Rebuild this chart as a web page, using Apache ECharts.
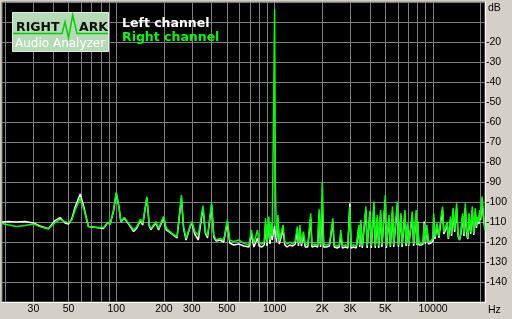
<!DOCTYPE html>
<html>
<head>
<meta charset="utf-8">
<script src="https://cdn.jsdelivr.net/npm/echarts@6/dist/echarts.min.js"></script>
<style>
html,body{margin:0;padding:0;background:#D4D0C8;}
#c{width:512px;height:319px;}
</style>
</head>
<body>
<div id="c"></div>
<script>
// Frequencies (Hz) shared by both channels
const freqs = [
  19, 21, 23.4, 26.6, 30, 33, 37.3, 41, 44.2, 47.5,
  49.9, 52.4, 55, 59.2, 62.7, 66.7, 75.5, 83.1, 88.1, 91.6,
  96.2, 100, 104, 107, 112.4, 119.7, 128.7, 135, 141.9, 147,
  156, 161.6, 165.6, 172, 178, 185, 199, 207, 225, 242,
  258, 266, 276, 294, 301, 313, 330, 353, 365, 377,
  400, 413, 428, 452, 477, 503, 521, 552, 595, 640,
  688, 713, 740, 780, 800, 830, 860, 877, 895, 920,
  935, 950, 965, 985, 1000, 1012, 1028, 1050, 1070, 1100,
  1130, 1160, 1200, 1250, 1300, 1350, 1390, 1415, 1445, 1475,
  1520, 1560, 1620, 1690, 1720, 1800, 1870, 1910, 1950, 2000,
  2040, 2120, 2220, 2330, 2380, 2480, 2560, 2617, 2680, 2800,
  2900, 2984, 3040, 3150, 3280, 3400, 3450, 3500, 3580, 3680,
  3767, 3840, 3920, 4000, 4080, 4160, 4240, 4320, 4400, 4450,
  4540, 4670, 4760, 4880, 5000, 5080, 5180, 5280, 5380, 5550,
  5650, 5800, 5950, 6050, 6150, 6270, 6380, 6520, 6650, 6760,
  6900, 7020, 7200, 7400, 7550, 7700, 7830, 7920, 8000, 8150,
  8400, 8650, 8800, 8950, 9150, 9350, 9700, 10000, 10100, 10300,
  10600, 10900, 11000, 11200, 11500, 11700, 11900, 12300, 12500, 12900,
  13100, 13400, 13700, 14100, 14400, 14700, 15000, 15400, 15700, 16000,
  16300, 16600, 16900, 17300, 17700, 18100, 18500, 18800, 19200, 19500,
  19700, 20000, 20400, 20900, 21300
];
// Right channel (green), dB
const rightDb = [
  -110.7, -111.5, -112.3, -111.8, -111.0, -112.3, -113.5, -110.3, -108.7, -109.8,
  -110.3, -109.0, -104.0, -98.2, -104.0, -112.3, -112.7, -112.8, -110.3, -111.0,
  -104.0, -95.2, -102.3, -109.8, -107.7, -110.7, -114.0, -112.3, -108.7, -110.7,
  -97.3, -111.5, -113.2, -111.5, -109.8, -113.2, -107.3, -113.2, -115.7, -117.3,
  -96.5, -112.3, -118.2, -111.5, -109.8, -114.8, -116.5, -101.8, -114.8, -117.0,
  -100.3, -116.5, -119.0, -118.2, -119.0, -109.0, -119.0, -119.8, -119.0, -120.7,
  -121.5, -114.0, -120.7, -114.0, -120.5, -121.0, -120.0, -108.2, -120.5, -107.3,
  -119.0, -110.7, -117.0, -55.0, -3.5, -93.0, -118.0, -106.5, -119.5, -120.5,
  -111.5, -120.0, -121.0, -120.0, -121.0, -119.5, -112.3, -120.5, -111.5, -121.0,
  -114.8, -121.0, -121.5, -105.7, -121.5, -121.0, -121.5, -103.7, -121.5, -89.8,
  -121.0, -121.5, -121.0, -108.2, -121.5, -122.0, -121.5, -114.0, -122.0, -121.5,
  -122.0, -102.3, -122.0, -121.5, -122.0, -111.5, -121.5, -109.0, -122.0, -121.5,
  -102.3, -122.0, -121.5, -104.8, -122.0, -121.5, -99.8, -122.0, -121.5, -106.5,
  -122.0, -104.0, -121.5, -122.0, -96.5, -122.0, -121.5, -106.5, -122.0, -102.3,
  -121.5, -121.0, -99.8, -121.5, -121.0, -105.7, -121.5, -121.0, -104.0, -121.0,
  -110.7, -121.5, -121.0, -104.8, -121.0, -120.5, -104.0, -121.0, -109.8, -120.5,
  -121.0, -120.5, -110.7, -120.0, -111.5, -120.0, -119.5, -118.0, -105.7, -117.5,
  -110.7, -117.0, -117.0, -108.0, -102.3, -115.0, -115.0, -110.0, -118.0, -107.3,
  -116.0, -103.0, -114.0, -100.7, -116.5, -119.0, -114.8, -105.7, -116.0, -100.7,
  -114.0, -118.0, -105.7, -115.0, -102.3, -115.7, -103.0, -112.0, -107.3, -110.0,
  -104.0, -108.0, -97.3, -108.0, -113.8
];
// Left channel (white), dB
const leftDb = [
  -110.0, -109.8, -110.0, -109.7, -110.5, -112.0, -113.3, -109.3, -107.8, -110.5,
  -111.0, -108.5, -102.5, -96.0, -103.0, -112.3, -112.7, -113.2, -110.5, -111.0,
  -104.5, -95.5, -102.5, -110.0, -108.0, -111.0, -114.8, -113.0, -109.5, -111.5,
  -98.0, -112.0, -113.8, -112.0, -110.5, -114.0, -108.0, -114.0, -116.0, -118.0,
  -98.0, -113.0, -119.0, -112.0, -110.5, -116.0, -119.0, -103.0, -115.5, -118.0,
  -101.5, -117.5, -119.5, -119.0, -120.0, -110.0, -120.5, -121.5, -121.0, -122.0,
  -122.5, -116.0, -122.5, -118.0, -122.0, -122.5, -121.5, -111.0, -122.0, -110.0,
  -121.0, -113.0, -119.0, -115.0, -112.0, -116.0, -120.0, -109.0, -121.0, -122.0,
  -114.0, -121.5, -122.5, -121.5, -122.0, -121.0, -114.0, -122.0, -113.0, -122.0,
  -117.0, -122.5, -122.5, -108.0, -122.5, -122.0, -122.5, -106.0, -122.5, -100.0,
  -122.5, -122.5, -122.0, -110.0, -122.5, -123.0, -122.5, -116.0, -123.0, -122.5,
  -123.0, -100.7, -123.0, -122.5, -123.0, -113.0, -122.5, -111.0, -123.0, -122.5,
  -104.0, -123.0, -122.0, -104.8, -123.0, -122.5, -102.0, -123.0, -122.5, -108.0,
  -123.0, -106.0, -122.5, -123.0, -99.0, -123.0, -122.5, -108.0, -122.5, -104.8,
  -122.5, -122.0, -102.0, -122.5, -122.0, -107.0, -122.5, -122.0, -106.0, -122.0,
  -112.0, -122.0, -122.0, -107.0, -122.0, -121.5, -106.0, -121.5, -109.8, -121.5,
  -121.5, -121.0, -109.8, -121.0, -113.0, -121.0, -120.5, -119.5, -108.0, -118.5,
  -112.0, -118.0, -118.0, -110.0, -104.0, -116.0, -115.0, -112.0, -118.5, -109.0,
  -117.0, -105.0, -115.0, -103.0, -117.0, -119.0, -116.0, -107.0, -117.0, -103.0,
  -116.0, -118.5, -108.0, -116.0, -104.0, -116.5, -105.0, -113.0, -108.0, -111.0,
  -105.0, -109.0, -100.0, -109.0, -113.8
];
// Axis ticks / labels
const xGridValues = [20,30,40,50,60,70,80,90,100,200,300,400,500,600,700,800,900,
  1000,2000,3000,4000,5000,6000,7000,8000,9000,10000,20000];
const xLabelValues = [30,50,100,200,300,500,1000,2000,3000,5000,10000];
const yMin = -150, yMax = 0, yStep = 10;
const seriesNames = ['Left channel', 'Right channel'];

const chart = echarts.init(document.getElementById('c'), null, {renderer:'canvas'});
const labelFont = {fontFamily:'Liberation Sans', fontSize:10.5, color:'#000'};

chart.setOption({
  animation:false,
  backgroundColor:'#D4D0C8',
  grid:{left:2, top:2, right:27, bottom:17, show:true, backgroundColor:'#000',
        borderColor:'#808080', borderWidth:1},
  xAxis:{
    type:'log', logBase:10, min:19, max:21300,
    name:'Hz', nameLocation:'end', nameGap:3,
    nameTextStyle:{fontFamily:'Liberation Sans', fontSize:10.5, color:'#000',
      verticalAlign:'top', align:'left', padding:[3,0,0,0]},
    axisLine:{show:true, onZero:false, lineStyle:{color:'#ffffff', width:1}},
    axisTick:{show:false, customValues:xGridValues},
    splitLine:{show:true, lineStyle:{color:'#808080', width:1}},
    minorSplitLine:{show:false},
    axisLabel:{show:true, customValues:xLabelValues, margin:2, ...labelFont,
      formatter:function(v){ v=Math.round(v); if(v>1000 && v<10000) return (v/1000)+'K'; return String(v);} }
  },
  yAxis:{
    type:'value', position:'right', min:yMin, max:yMax, interval:yStep,
    name:'dB', nameLocation:'end', nameGap:-1,
    nameTextStyle:{fontFamily:'Liberation Sans', fontSize:10.5, color:'#000',
      align:'left', verticalAlign:'top', padding:[0,0,0,3]},
    axisLine:{show:true, lineStyle:{color:'#ffffff', width:1}},
    axisTick:{show:false},
    splitLine:{show:true, lineStyle:{color:'#808080', width:1}},
    axisLabel:{margin:1, ...labelFont,
      formatter:function(v){ return (v<=-20 && v>=-140) ? String(v) : ''; }}
  },
  series:[
    {name:seriesNames[0], type:'line', showSymbol:false, symbol:'none',
     lineStyle:{color:'#ffffff', width:1.5}, z:2,
     data:freqs.map((f,i)=>[f, leftDb[i]])},
    {name:seriesNames[1], type:'line', showSymbol:false, symbol:'none',
     lineStyle:{color:'#00ff00', width:1.5}, z:3,
     data:freqs.map((f,i)=>[f, rightDb[i]])}
  ],
  graphic:[
    {type:'rect', shape:{x:12.5, y:12.5, width:96, height:39},
     style:{fill:'#b6dab6', stroke:'#e8e8e8', lineWidth:1}, z:10},
    {type:'text', x:16, y:21.5, z:11,
     style:{text:'RIGHT', fill:'#101010', fontFamily:'DejaVu Sans', fontWeight:'bold',
            fontSize:12.5, verticalAlign:'top'}},
    {type:'text', x:79, y:21.5, z:11,
     style:{text:'ARK', fill:'#101010', fontFamily:'DejaVu Sans', fontWeight:'bold',
            fontSize:12.5, verticalAlign:'top'}},
    {type:'polyline', z:12,
     shape:{points:[[13,33.5],[62,33.5],[65,22],[68.5,38],[72.7,15],[77,33.5],[108,33.5]]},
     style:{stroke:'#00d000', lineWidth:1.5, fill:null}},
    {type:'text', x:15, y:37.5, z:11,
     style:{text:'Audio Analyzer', fill:'#ffffff', fontFamily:'DejaVu Sans',
            fontSize:12, verticalAlign:'top',
            textShadowColor:'#6a8a6a', textShadowOffsetX:1, textShadowOffsetY:1, textShadowBlur:0}},
    {type:'text', x:122, y:17, z:11,
     style:{text:seriesNames[0], fill:'#ffffff', fontFamily:'DejaVu Sans', fontWeight:'bold',
            fontSize:12.5, verticalAlign:'top'}},
    {type:'text', x:122, y:31, z:11,
     style:{text:seriesNames[1], fill:'#00ff00', fontFamily:'DejaVu Sans', fontWeight:'bold',
            fontSize:12.5, verticalAlign:'top'}}
  ]
});
</script>
</body>
</html>
